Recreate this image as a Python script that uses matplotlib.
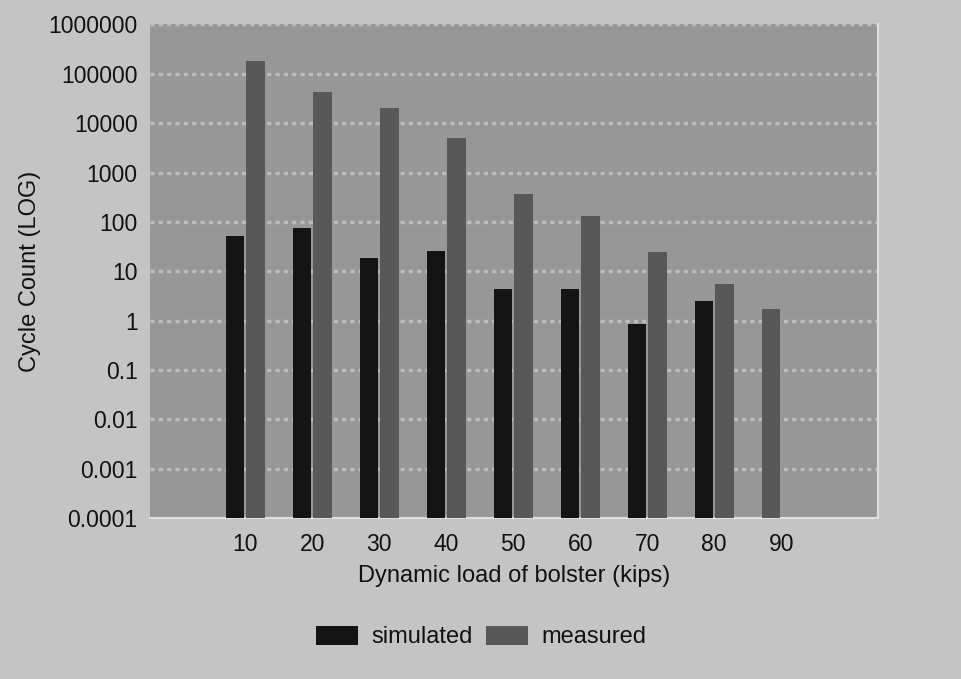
import numpy as np
import matplotlib
matplotlib.use("Agg")
import matplotlib.pyplot as plt

plt.rcParams['font.family'] = ['Liberation Sans', 'DejaVu Sans']

loads = [10, 20, 30, 40, 50, 60, 70, 80, 90]
simulated = [52, 76, 19, 26, 4.4, 4.4, 0.87, 2.5, np.nan]
measured = [180000, 42000, 20000, 5000, 365, 132, 24, 5.5, 1.7]
ytick_vals = [1e-4, 1e-3, 1e-2, 1e-1, 1, 10, 100, 1000, 10000, 100000, 1000000]
ytick_labels = ["0.0001", "0.001", "0.01", "0.1", "1", "10", "100", "1000",
                "10000", "100000", "1000000"]

fig_bg = '#c4c4c4'
ax_bg = '#979797'
c_sim = '#141414'
c_meas = '#585858'

fig = plt.figure(figsize=(9.62, 6.79), dpi=100, facecolor=fig_bg)
ax = fig.add_axes([0.156, 0.237, 0.757, 0.727])
ax.set_facecolor(ax_bg)

w = 2.75
gap = 0.3
sim_x, sim_h, meas_x, meas_h = [], [], [], []
for x, s, m in zip(loads, simulated, measured):
    # bars are packed from the left slot of each category
    slots = [x - gap / 2 - w / 2, x + gap / 2 + w / 2]
    k = 0
    if not np.isnan(s):
        sim_x.append(slots[k]); sim_h.append(s); k += 1
    if not np.isnan(m):
        meas_x.append(slots[k]); meas_h.append(m); k += 1

ax.bar(sim_x, sim_h, width=w, color=c_sim, label='simulated', zorder=3, bottom=1e-4)
ax.bar(meas_x, meas_h, width=w, color=c_meas, label='measured', zorder=3, bottom=1e-4)

ax.set_yscale('log')
ax.set_ylim(1e-4, 1e6)
ax.set_xlim(-4.2, 104.5)
ax.set_yticks(ytick_vals)
ax.set_yticklabels(ytick_labels)
ax.minorticks_off()
ax.set_xticks(loads)
ax.set_xticklabels([str(v) for v in loads])
ax.tick_params(axis='both', length=0, labelsize=16.5, colors='#111111')
ax.tick_params(axis='y', pad=9)
ax.tick_params(axis='x', pad=11)

ax.yaxis.grid(True, color='#bdbdbd', linestyle=(0, (1.2, 1.2)), linewidth=2.5, zorder=1)
ax.set_axisbelow(True)

for side in ['top', 'left']:
    ax.spines[side].set_visible(False)
for side in ['bottom', 'right']:
    ax.spines[side].set_color('#dedede')
    ax.spines[side].set_linewidth(1.5)

ax.set_xlabel('Dynamic load of bolster (kips)', fontsize=17, color='#111111', labelpad=6)
ax.set_ylabel('Cycle Count (LOG)', fontsize=17, color='#111111', labelpad=5)

fig.legend(loc='center', bbox_to_anchor=(0.5, 1 - 637 / 679), ncol=2, frameon=False,
           fontsize=17, handlelength=1.8, handleheight=0.85, handletextpad=0.55,
           columnspacing=0.55, labelcolor='#111111')

fig.savefig('out.png', dpi=100, facecolor=fig_bg)
